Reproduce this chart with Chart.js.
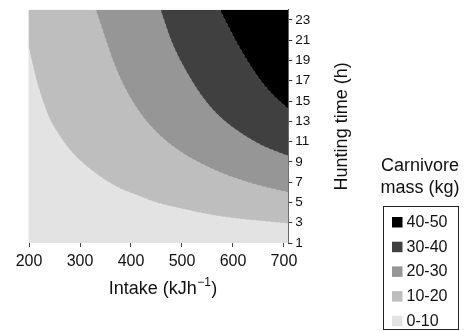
<!DOCTYPE html>
<html><head><meta charset="utf-8">
<script src="https://cdn.jsdelivr.net/npm/chart.js@4"></script>
<style>html,body{margin:0;padding:0;background:#fff}#wrap{width:465px;height:331px}</style>
</head><body><div id="wrap"><canvas id="c" width="465" height="331"></canvas></div>
<script>
// Legend bands (top to bottom) and their fill colours
const bandLabels = ['40-50', '30-40', '20-30', '10-20', '0-10'];
const bandColors = ['#000000', '#404040', '#969696', '#bebebe', '#e3e3e3'];
const legendTitle = ['Carnivore', 'mass (kg)'];

// Axis ticks
const xTicks = [200, 300, 400, 500, 600, 700];
const yTicks = [1, 3, 5, 7, 9, 11, 13, 15, 17, 19, 21, 23];

// Contour boundaries: intake (kJ/h) and hunting time (h)
// boundary between 30-40 and 40-50 kg
const b40Intake = [574.5, 603.9, 636.7, 669.2, 709];
const b40Hours  = [24.0, 21.1, 18.3, 16.1, 14.2];
// boundary between 20-30 and 30-40 kg
const b30Intake = [458, 479.8, 512.4, 545.1, 577.8, 617.1, 656.3, 709];
const b30Hours  = [24.0, 20.85, 17.6, 15.1, 13.3, 11.8, 10.65, 9.58];
// boundary between 10-20 and 20-30 kg
const b20Intake = [331, 349, 368.6, 388.2, 414.3, 447.1, 486.3, 525.5, 577.8, 643.1, 709];
const b20Hours  = [24.0, 21.3, 18.5, 16.3, 14.1, 12.1, 10.4, 9.15, 7.9, 6.8, 6.0];
// boundary between 0-10 and 10-20 kg
const b10Intake = [198.6, 215.1, 231.4, 241.2, 257.5, 277.1, 303.3, 335.9, 368.6, 407.8, 447.1, 486.3, 525.5, 577.8, 643.1, 709];
const b10Hours  = [20.5, 17.0, 14.4, 13.2, 11.8, 10.4, 9.0, 7.7, 6.65, 5.8, 5.05, 4.55, 4.1, 3.62, 3.25, 2.92];

const FONT = "'Liberation Sans', Arial, Helvetica, sans-serif";
const pts = (xs, ys) => xs.map((x, i) => ({x: x, y: ys[i]}));

function band(label, xs, ys, color) {
  return {
    label: label,
    data: pts(xs, ys),
    fill: 'end',
    backgroundColor: color,
    borderColor: 'rgba(255,255,255,0.25)',
    borderWidth: 1,
    borderDash: [2, 3],
    pointRadius: 0,
    cubicInterpolationMode: 'monotone'
  };
}

const extras = {
  id: 'extras',
  beforeDatasetsDraw(chart) {
    const {ctx, chartArea: a} = chart;
    ctx.save();
    ctx.fillStyle = bandColors[4];
    ctx.fillRect(a.left, a.top, a.right - a.left, a.bottom - a.top);
    ctx.restore();
  },
  afterDraw(chart) {
    const ctx = chart.ctx;
    const a = chart.chartArea;
    ctx.save();
    ctx.fillStyle = '#111';
    // x axis title with superscript
    const main = 'Intake (kJh', sup = '\u22121', close = ')';
    ctx.textBaseline = 'alphabetic';
    ctx.textAlign = 'left';
    ctx.font = '18px ' + FONT;
    const w1 = ctx.measureText(main).width, w3 = ctx.measureText(close).width;
    ctx.font = '12px ' + FONT;
    const w2 = ctx.measureText(sup).width;
    let x0 = 162.5 - (w1 + w2 + w3) / 2;
    ctx.font = '18px ' + FONT;
    ctx.fillText(main, x0, 293.5);
    ctx.font = '12px ' + FONT;
    ctx.fillText(sup, x0 + w1 + 0.5, 286);
    ctx.font = '18px ' + FONT;
    ctx.fillText(close, x0 + w1 + w2 + 1, 293.5);
    // right axis title, reading bottom to top
    ctx.textAlign = 'center';
    ctx.textBaseline = 'middle';
    ctx.save();
    ctx.translate(342, (a.top + a.bottom) / 2);
    ctx.rotate(-Math.PI / 2);
    ctx.fillText('Hunting time (h)', 0, 0);
    ctx.restore();
    // legend title
    legendTitle.forEach((t, i) => ctx.fillText(t, 420, 166.5 + i * 22));
    // legend box
    ctx.strokeStyle = '#222';
    ctx.lineWidth = 1;
    ctx.strokeRect(383.5, 206.5, 75, 123);
    ctx.font = '16px ' + FONT;
    ctx.textAlign = 'left';
    bandLabels.forEach((lab, i) => {
      const y = 217 + i * 24.7;
      ctx.fillStyle = bandColors[i];
      ctx.fillRect(392, y, 10.5, 10.5);
      ctx.fillStyle = '#111';
      ctx.fillText(lab, 406.5, y + 5.5);
    });
    ctx.restore();
  }
};

new Chart(document.getElementById('c'), {
  type: 'line',
  data: {
    datasets: [
      band(bandLabels[0], b40Intake, b40Hours, bandColors[0]),
      band(bandLabels[1], b30Intake, b30Hours, bandColors[1]),
      band(bandLabels[2], b20Intake, b20Hours, bandColors[2]),
      band(bandLabels[3], b10Intake, b10Hours, bandColors[3])
    ]
  },
  options: {
    responsive: false,
    animation: false,
    devicePixelRatio: 1,
    layout: {padding: {left: 28.5, top: 7, right: 0, bottom: 0}},
    plugins: {legend: {display: false}, tooltip: {enabled: false}},
    scales: {
      x: {
        type: 'linear', min: 199, max: 708.5,
        border: {display: false},
        grid: {drawOnChartArea: false, drawTicks: true, tickLength: 4, tickColor: '#444'},
        ticks: {font: {family: FONT, size: 16}, color: '#111', padding: 5, maxRotation: 0, autoSkip: false},
        afterBuildTicks: s => { s.ticks = xTicks.map(v => ({value: v})); },
        afterFit: s => { s.height = 88; },
        title: {display: false}
      },
      y: {
        type: 'linear', position: 'right', min: 1, max: 24,
        border: {display: true, color: '#333', width: 1},
        grid: {drawOnChartArea: false, drawTicks: true, tickLength: 4, tickColor: '#333'},
        ticks: {font: {family: FONT, size: 13.5, lineHeight: 1}, color: '#111', padding: 3, autoSkip: false},
        afterBuildTicks: s => { s.ticks = yTicks.map(v => ({value: v})); },
        afterFit: s => { s.width = 176.7; }
      }
    }
  },
  plugins: [extras]
});
</script>
</body></html>
